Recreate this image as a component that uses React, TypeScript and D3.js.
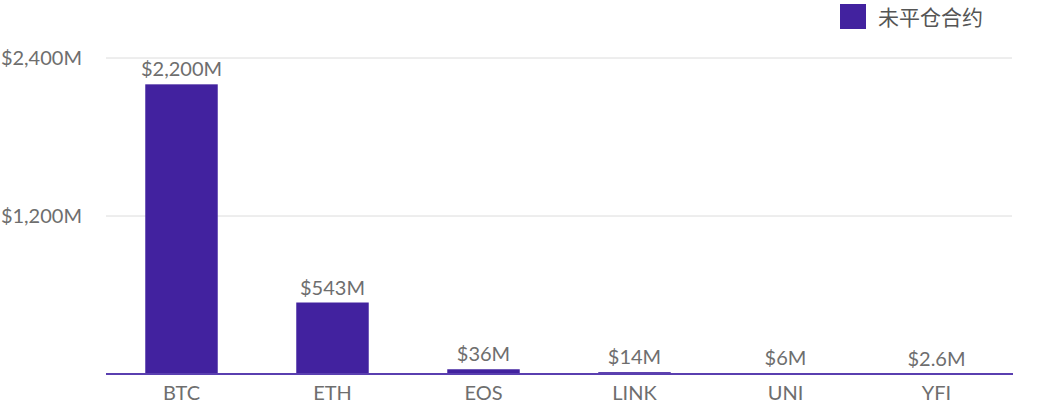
import React from "react"
import * as d3 from "d3"

const coins = ["BTC", "ETH", "EOS", "LINK", "UNI", "YFI"]
const openInterest = [2200, 543, 36, 14, 6, 2.6]
const valueLabels = ["$2,200M", "$543M", "$36M", "$14M", "$6M", "$2.6M"]
const yTicks = [1200, 2400]
const seriesName = "未平仓合约"

const W = 1050
const H = 406
const margin = { top: 58, right: 38, bottom: 32, left: 106 }
const barColor = "#42229f"
const textColor = "#6e6e6e"
const font = "Lato, 'Noto Sans CJK SC', sans-serif"

export default function App() {
    const x = d3.scaleBand<string>()
        .domain(coins)
        .range([margin.left, W - margin.right])
        .paddingInner(0.52)
        .paddingOuter(0.26)

    const y = d3.scaleLinear()
        .domain([0, 2400])
        .range([H - margin.bottom, margin.top])

    const fmt = (v: number) => "$" + d3.format(",")(v) + "M"
    const base = y(0)

    return (
        <svg width={W} height={H} style={{ position: "absolute", left: 0, top: 0 }} fontFamily={font}>
            {/* gridlines + y labels */}
            {yTicks.map(t => (
                <g key={t}>
                    <line x1={margin.left} x2={W - margin.right} y1={y(t)} y2={y(t)} stroke="#dcdcdc" strokeWidth={1} />
                    <text x={82} y={y(t)} dy="0.35em" textAnchor="end" fontSize={20} fill={textColor}>{fmt(t)}</text>
                </g>
            ))}

            {/* bars */}
            {coins.map((c, i) => (
                <g key={c}>
                    <rect x={x(c)} y={y(openInterest[i])} width={x.bandwidth()} height={base - y(openInterest[i])} fill={barColor} />
                    <text x={(x(c) ?? 0) + x.bandwidth() / 2} y={y(openInterest[i]) - 8} textAnchor="middle" fontSize={20} fill={textColor}>{valueLabels[i]}</text>
                    <text x={(x(c) ?? 0) + x.bandwidth() / 2} y={400} textAnchor="middle" fontSize={20} fill={textColor}>{c}</text>
                </g>
            ))}

            {/* x axis line */}
            <line x1={margin.left} x2={W - margin.right + 1} y1={base} y2={base} stroke="#5a3fb0" strokeWidth={2} />

            {/* legend */}
            <rect x={840} y={4} width={26} height={25} fill={barColor} />
            <text x={878} y={25} fontSize={21} fill="#555">{seriesName}</text>
        </svg>
    )
}
